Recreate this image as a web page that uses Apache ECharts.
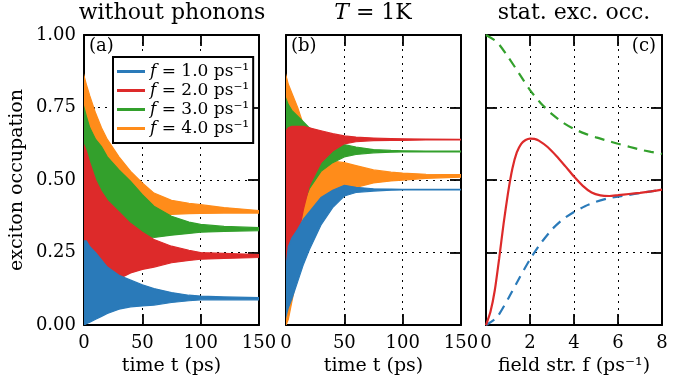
<!DOCTYPE html>
<html>
<head>
<meta charset="utf-8">
<script src="https://cdn.jsdelivr.net/npm/echarts@6/dist/echarts.min.js"></script>
<style>
  html, body { margin: 0; padding: 0; background: #fff; }
  #chart { width: 682px; height: 381px; }
</style>
</head>
<body>
<div id="chart"></div>
<script>
// series names (legend) and colours
const names = ['f = 1.0 ps⁻¹', 'f = 2.0 ps⁻¹', 'f = 3.0 ps⁻¹', 'f = 4.0 ps⁻¹'];
const colors = ['#2a7ab9', '#dd2a2a', '#33a02c', '#ff8c1a'];

// (a) without phonons: envelopes of the fast oscillations
const tA = [0, 2, 5, 10, 15, 20, 30, 40, 50, 60, 75, 90, 100, 120, 150];
const blueHiA   = [0.29, 0.29, 0.27, 0.25, 0.225, 0.2, 0.172, 0.155, 0.139, 0.126, 0.112, 0.103, 0.1, 0.097, 0.095];
const blueLoA   = [0.0, 0.005, 0.01, 0.02, 0.03, 0.04, 0.055, 0.063, 0.066, 0.069, 0.078, 0.084, 0.087, 0.087, 0.087];
const redHiA    = [0.62, 0.6, 0.56, 0.5, 0.46, 0.43, 0.39, 0.35, 0.32, 0.295, 0.272, 0.258, 0.25, 0.247, 0.243];
const redLoA    = [0.0, 0.02, 0.04, 0.08, 0.11, 0.13, 0.16, 0.18, 0.192, 0.2, 0.215, 0.223, 0.227, 0.23, 0.233];
const greenHiA  = [0.75, 0.72, 0.68, 0.64, 0.615, 0.58, 0.535, 0.495, 0.45, 0.41, 0.375, 0.355, 0.347, 0.34, 0.336];
const greenLoA  = [0.05, 0.08, 0.13, 0.19, 0.23, 0.26, 0.285, 0.295, 0.3, 0.302, 0.31, 0.316, 0.32, 0.323, 0.326];
const orangeHiA = [0.86, 0.83, 0.79, 0.73, 0.68, 0.64, 0.58, 0.53, 0.49, 0.455, 0.43, 0.42, 0.415, 0.405, 0.395];
const orangeLoA = [0.3, 0.3, 0.31, 0.32, 0.33, 0.34, 0.35, 0.36, 0.37, 0.375, 0.382, 0.384, 0.385, 0.386, 0.386];

// (b) T = 1K
const tB = [0, 2, 5, 10, 15, 20, 30, 40, 50, 60, 75, 90, 100, 120, 150];
const blueHiB   = [0.2, 0.27, 0.3, 0.33, 0.365, 0.39, 0.44, 0.465, 0.482, 0.475, 0.47, 0.469, 0.468, 0.468, 0.468];
const blueLoB   = [0.03, 0.06, 0.09, 0.15, 0.21, 0.26, 0.345, 0.405, 0.445, 0.457, 0.462, 0.465, 0.466, 0.466, 0.466];
const redHiB    = [0.67, 0.68, 0.685, 0.685, 0.685, 0.68, 0.67, 0.66, 0.652, 0.648, 0.645, 0.643, 0.642, 0.641, 0.64];
const redLoB    = [0.1, 0.13, 0.2, 0.3, 0.4, 0.48, 0.56, 0.6, 0.625, 0.632, 0.636, 0.637, 0.637, 0.638, 0.638];
const greenHiB  = [0.78, 0.76, 0.74, 0.72, 0.7, 0.68, 0.655, 0.635, 0.622, 0.614, 0.605, 0.602, 0.601, 0.6, 0.6];
const greenLoB  = [0.1, 0.15, 0.25, 0.35, 0.42, 0.47, 0.53, 0.56, 0.58, 0.588, 0.594, 0.596, 0.597, 0.597, 0.597];
const orangeHiB = [0.86, 0.83, 0.8, 0.75, 0.69, 0.64, 0.58, 0.565, 0.56, 0.55, 0.535, 0.527, 0.524, 0.52, 0.519];
const orangeLoB = [0.0, 0.02, 0.08, 0.18, 0.235, 0.3, 0.36, 0.415, 0.45, 0.475, 0.49, 0.497, 0.5, 0.506, 0.51];

// (c) stationary exciton occupation vs field strength
const fRed   = [0, 0.2, 0.4, 0.6, 0.8, 1.0, 1.2, 1.4, 1.6, 1.8, 2.0, 2.2, 2.4, 2.8, 3.2, 3.6, 4.0, 4.4, 4.8, 5.2, 5.6, 6.0, 6.5, 7.0, 7.5, 8];
const occRed = [0, 0.045, 0.12, 0.23, 0.35, 0.455, 0.54, 0.595, 0.625, 0.638, 0.643, 0.642, 0.636, 0.614, 0.583, 0.548, 0.512, 0.48, 0.457, 0.447, 0.445, 0.448, 0.452, 0.456, 0.461, 0.467];
const fGreen   = [0, 0.5, 1.0, 1.5, 2.0, 2.5, 3.0, 3.5, 4.0, 4.5, 5.0, 5.5, 6.0, 6.5, 7.0, 7.5, 8];
const occGreen = [1.0, 0.976, 0.925, 0.868, 0.81, 0.764, 0.727, 0.698, 0.676, 0.66, 0.647, 0.636, 0.625, 0.615, 0.605, 0.597, 0.59];
const fBlue   = [0, 0.5, 1.0, 1.5, 2.0, 2.5, 3.0, 3.5, 4.0, 4.5, 5.0, 5.5, 6.0, 6.5, 7.0, 7.5, 8];
const occBlue = [0, 0.027, 0.09, 0.16, 0.227, 0.283, 0.33, 0.365, 0.39, 0.41, 0.425, 0.436, 0.443, 0.449, 0.455, 0.461, 0.467];

const FONT = 'DejaVu Serif';
const chart = echarts.init(document.getElementById('chart'));

// band between lower and upper envelope, drawn as one polygon
function band(name, gi, t, lo, hi, color) {
  return {
    name: name,
    type: 'custom',
    xAxisIndex: 2 * gi,
    yAxisIndex: 2 * gi,
    itemStyle: { color: color },
    clip: true,
    data: t.map((x, i) => [x, lo[i], hi[i]]),
    encode: { x: 0, y: [1, 2] },
    renderItem: function (params, api) {
      if (params.dataIndex !== 0) return null;
      const pts = [];
      for (let i = 0; i < t.length; i++) pts.push(api.coord([t[i], hi[i]]));
      for (let i = t.length - 1; i >= 0; i--) pts.push(api.coord([t[i], lo[i]]));
      return {
        type: 'polygon',
        shape: { points: pts },
        style: { fill: color, stroke: color, lineWidth: 1.2 }
      };
    }
  };
}

const grids = [
  { left: 84, top: 35, width: 175, height: 291 },
  { left: 286, top: 35, width: 175, height: 291 },
  { left: 486, top: 35, width: 176, height: 291 }
];

const gridLine = { show: true, lineStyle: { color: '#000', type: [2, 5], width: 1 } };
const frame = { show: true, onZero: false, lineStyle: { color: '#000', width: 2 } };
const tick = { show: true, inside: true, length: 11, lineStyle: { color: '#000', width: 1.8 } };
const label = { color: '#000', fontFamily: FONT, fontSize: 18, margin: 9 };
const nameStyle = { color: '#000', fontFamily: FONT, fontSize: 19 };

const xAxes = [];
const yAxes = [];
[0, 1, 2].forEach(gi => {
  const isF = gi === 2;
  xAxes.push({
    type: 'value', gridIndex: gi, min: 0, max: isF ? 8 : 150, interval: isF ? 2 : 50,
    name: isF ? 'field str. f (ps⁻¹)' : 'time t (ps)',
    nameLocation: 'middle', nameGap: 31, nameTextStyle: nameStyle,
    axisLine: frame, axisTick: tick, splitLine: gridLine,
    axisLabel: Object.assign({}, label, { formatter: v => String(v) })
  });
  xAxes.push({
    type: 'value', gridIndex: gi, position: 'top', min: 0, max: isF ? 8 : 150, interval: isF ? 2 : 50,
    axisLine: frame, axisTick: tick, splitLine: { show: false }, axisLabel: { show: false }
  });
  yAxes.push({
    type: 'value', gridIndex: gi, min: 0, max: 1, interval: 0.25,
    name: gi === 0 ? 'exciton occupation' : '',
    nameLocation: 'middle', nameGap: 57, nameRotate: 90, nameTextStyle: nameStyle,
    axisLine: frame, axisTick: tick, splitLine: gridLine,
    axisLabel: Object.assign({}, label, { show: gi === 0, margin: 8, formatter: v => v.toFixed(2) })
  });
  yAxes.push({
    type: 'value', gridIndex: gi, position: 'right', min: 0, max: 1, interval: 0.25,
    axisLine: frame, axisTick: tick, splitLine: { show: false }, axisLabel: { show: false }
  });
});

function curve(f, occ, color, dashed) {
  return {
    type: 'line', xAxisIndex: 4, yAxisIndex: 4, showSymbol: false,
    smooth: 0.2,
    data: f.map((x, i) => [x, occ[i]]),
    lineStyle: { color: color, width: 2.2, type: dashed ? [10, 7] : 'solid' },
    silent: true
  };
}

const series = [
  band(names[3], 0, tA, orangeLoA, orangeHiA, colors[3]),
  band(names[2], 0, tA, greenLoA, greenHiA, colors[2]),
  band(names[1], 0, tA, redLoA, redHiA, colors[1]),
  band(names[0], 0, tA, blueLoA, blueHiA, colors[0]),
  band(names[3], 1, tB, orangeLoB, orangeHiB, colors[3]),
  band(names[2], 1, tB, greenLoB, greenHiB, colors[2]),
  band(names[1], 1, tB, redLoB, redHiB, colors[1]),
  band(names[0], 1, tB, blueLoB, blueHiB, colors[0]),
  curve(fGreen, occGreen, colors[2], true),
  curve(fBlue, occBlue, colors[0], true),
  curve(fRed, occRed, colors[1], false)
];

const titleFont = '22px "' + FONT + '"';
const panelFont = '18px "' + FONT + '"';

chart.setOption({
  animation: false,
  backgroundColor: '#fff',
  grid: grids,
  xAxis: xAxes,
  yAxis: yAxes,
  legend: {
    data: names.map((n, i) => ({ name: n, icon: 'rect', itemStyle: { color: colors[i] } })),
    orient: 'vertical', left: 113, top: 57,
    backgroundColor: '#fff', borderColor: '#000', borderWidth: 2, borderRadius: 0,
    padding: [6, 4, 6, 4], itemGap: 2, itemWidth: 28, itemHeight: 3,
    selectedMode: false,
    formatter: n => n.replace(/^f = (\S+) (.*)$/, '{i|f} = $1 $2'),
    textStyle: {
      color: '#000', fontFamily: FONT, fontSize: 17, lineHeight: 16,
      rich: { i: { fontStyle: 'italic', fontFamily: FONT, fontSize: 17, lineHeight: 16 } }
    },
    z: 20
  },
  graphic: [
    { type: 'text', x: 172, y: 2, style: { text: 'without phonons', font: titleFont, fill: '#000', textAlign: 'center' } },
    { type: 'text', x: 373, y: 2, style: {
        text: '{i|T} = 1K', font: titleFont, fill: '#000', textAlign: 'center',
        rich: { i: { fontStyle: 'italic', fontFamily: FONT, fontSize: 22 } } } },
    { type: 'text', x: 574, y: 2, style: { text: 'stat. exc. occ.', font: titleFont, fill: '#000', textAlign: 'center' } },
    { type: 'text', x: 89, y: 37, z: 30, style: { text: '(a)', font: panelFont, fill: '#000' } },
    { type: 'text', x: 291, y: 37, z: 30, style: { text: '(b)', font: panelFont, fill: '#000' } },
    { type: 'text', x: 656, y: 37, z: 30, style: { text: '(c)', font: panelFont, fill: '#000', textAlign: 'right' } }
  ],
  series: series
});
</script>
</body>
</html>
